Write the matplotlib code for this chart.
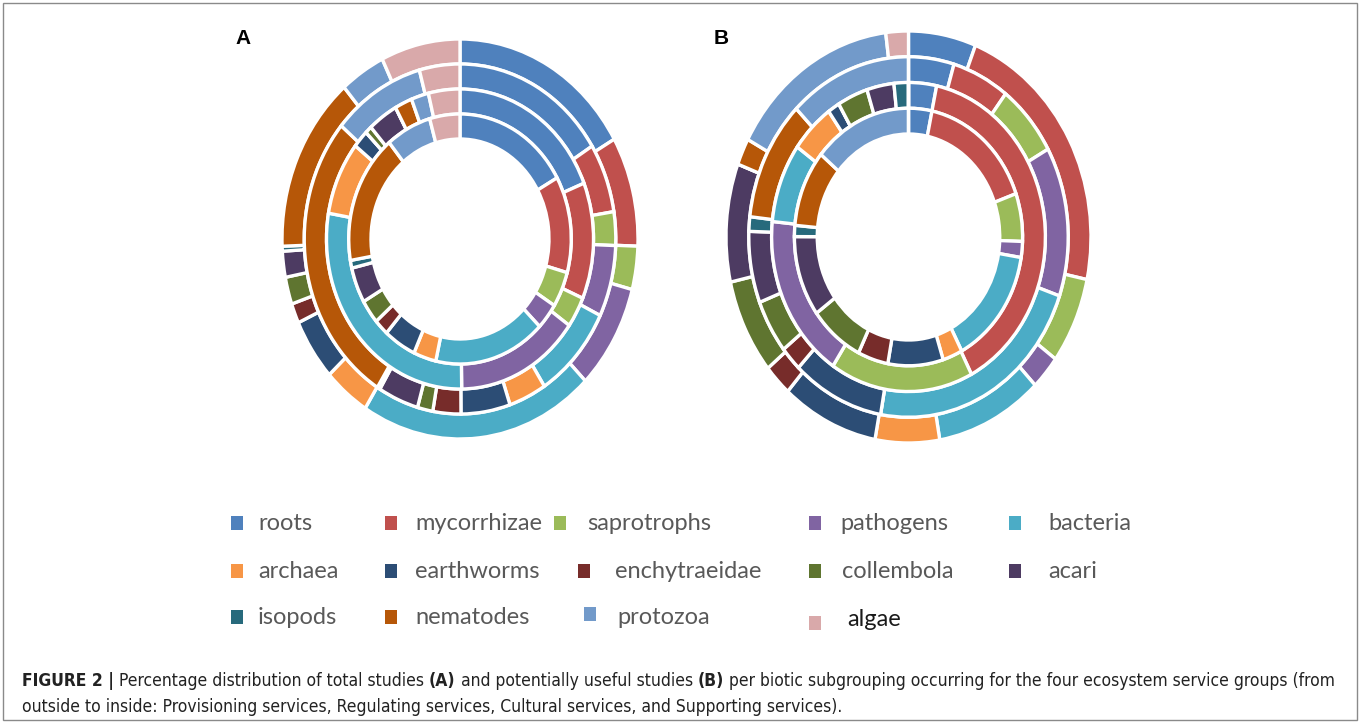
import matplotlib
matplotlib.use('Agg')
import matplotlib.pyplot as plt
from matplotlib.patches import Rectangle
from matplotlib import font_manager
from matplotlib.font_manager import FontProperties

W, H = 1360, 724

groups = ['roots', 'mycorrhizae', 'saprotrophs', 'pathogens', 'bacteria',
          'archaea', 'earthworms', 'enchytraeidae', 'collembola', 'acari',
          'isopods', 'nematodes', 'protozoa', 'algae']
colors = ['#4f81bd', '#c0504d', '#9bbb59', '#8064a2', '#4bacc6',
          '#f79646', '#2c4d75', '#772c2a', '#5f7530', '#4d3b62',
          '#276a7c', '#b65708', '#729aca', '#d9a9aa']

# % of studies per subgroup, (A) total studies, rings from outside to inside
a_provisioning = [16.7, 8.9, 3.5, 8.5, 21.4, 4.2, 5.0, 1.6, 2.2, 2.1, 0.4, 14.3, 4.1, 7.2]
a_regulating   = [16.1, 6.4, 3.1, 6.6, 8.7, 3.9, 5.1, 2.9, 1.6, 4.2, 0.3, 27.3, 9.6, 4.2]
a_cultural     = [18.9, 12.5, 3.3, 15.0, 27.9, 7.9, 1.9, 0.0, 0.8, 3.6, 0.0, 2.1, 2.1, 3.8]
a_supporting   = [16.9, 12.5, 4.6, 3.4, 16.2, 3.3, 4.7, 2.1, 3.1, 4.6, 1.0, 16.8, 6.6, 4.4]

# (B) potentially useful studies
b_provisioning = [6.0, 22.4, 6.8, 2.7, 9.5, 5.7, 8.6, 2.5, 7.5, 9.3, 0.0, 2.1, 15.2, 2.0]
b_regulating   = [4.6, 5.8, 6.5, 13.4, 22.5, 0.0, 9.3, 2.2, 4.8, 6.4, 1.3, 10.8, 12.4, 0.0]
b_cultural     = [3.3, 39.1, 16.9, 17.3, 8.3, 5.2, 1.4, 0.0, 3.6, 3.2, 1.7, 0.0, 0.0, 0.0]
b_supporting   = [3.3, 16.2, 6.0, 2.0, 14.7, 2.8, 7.8, 4.3, 7.7, 10.1, 1.4, 9.6, 13.9, 0.0]

caption_runs_1 = [('FIGURE 2 |', 'bold'),
                  ('Percentage distribution of total studies', 'normal'),
                  ('(A)', 'bold'),
                  ('and potentially useful studies', 'normal'),
                  ('(B)', 'bold'),
                  ('per biotic subgrouping occurring for the four ecosystem service groups (from', 'normal')]
caption_runs_2 = [('outside to inside: Provisioning services, Regulating services, Cultural services, '
                   'and Supporting services).', 'normal')]

# a narrow face for the caption if one is installed
files = [f.fname for f in font_manager.fontManager.ttflist]


def find_file(keys):
    for k in keys:
        for fn in files:
            if fn.endswith(k):
                return fn
    return None


cap_regular = find_file(['LiberationSansNarrow-Regular.ttf', 'DejaVuSansCondensed.ttf'])
cap_bold = find_file(['LiberationSansNarrow-Bold.ttf', 'DejaVuSansCondensed-Bold.ttf'])
names = {f.name for f in font_manager.fontManager.ttflist}
leg_font = 'Lato' if 'Lato' in names else 'DejaVu Sans'

fig = plt.figure(figsize=(W / 100, H / 100), dpi=100)


def rect_px(left, top, right, bottom):
    return [left / W, 1 - bottom / H, (right - left) / W, (bottom - top) / H]


def donut(box, rings):
    ax = fig.add_axes(rect_px(*box))
    radii = [1.0, 0.875, 0.75, 0.625]
    for r, vals in zip(radii, rings):
        ax.pie(vals, radius=r, colors=colors, startangle=90, counterclock=False,
               wedgeprops=dict(width=0.125, edgecolor='white', linewidth=2.4))
    ax.set_aspect('auto')
    ax.set_xlim(-1.0, 1.0)
    ax.set_ylim(-1.0, 1.0)
    ax.axis('off')
    return ax


donut((282, 39, 638, 439), [a_provisioning, a_regulating, a_cultural, a_supporting])
donut((726, 31, 1091, 443), [b_provisioning, b_regulating, b_cultural, b_supporting])

fig.text(243 / W, 1 - 38 / H, 'A', fontsize=15, fontweight='bold', family='Liberation Sans',
         ha='center', va='center')
fig.text(721 / W, 1 - 38 / H, 'B', fontsize=15, fontweight='bold', family='Liberation Sans',
         ha='center', va='center')

# legend, laid out like the original (3 rows x 5 columns)
leg_marker = [(237, 523), (391, 523), (560, 523), (815, 523), (1015, 523),
              (237, 571), (391, 571), (584, 571), (815, 571), (1015, 571),
              (237, 617), (391, 617), (590, 614), (815, 623)]
leg_text = [(258, 524), (415, 524), (587, 524), (840, 524), (1048, 524),
            (258, 572), (415, 572), (615, 572), (842, 572), (1048, 572),
            (258, 618), (415, 618), (617, 618), (847, 620)]
for i, g in enumerate(groups):
    mx, my = leg_marker[i]
    fig.add_artist(Rectangle(((mx - 6) / W, 1 - (my + 7) / H), 12 / W, 14 / H,
                             transform=fig.transFigure, facecolor=colors[i],
                             edgecolor='none'))
    tx, ty = leg_text[i]
    fig.text(tx / W, 1 - ty / H, g, fontsize=17, family=leg_font,
             color='#1a1a1a' if g == 'algae' else '#595959', ha='left', va='center')

# outer frame
fig.add_artist(Rectangle((3 / W, 1 - 720 / H), 1354 / W, 717 / H, transform=fig.transFigure,
                         fill=False, edgecolor='#8a8a8a', linewidth=1.0))

# caption with bold runs, sized so the first line spans the frame
renderer = fig.canvas.get_renderer()


def props(weight, size):
    fn = cap_bold if weight == 'bold' else cap_regular
    if fn:
        return FontProperties(fname=fn, size=size)
    return FontProperties(family='DejaVu Sans', weight=weight, size=size)


def text_width(s, weight, size):
    t = fig.text(0, 0, s, fontproperties=props(weight, size))
    w = t.get_window_extent(renderer).width
    t.remove()
    return w


def line_width(runs, size):
    sp = text_width('a a', 'normal', size) - text_width('aa', 'normal', size)
    return sum(text_width(s, w, size) for s, w in runs) + sp * (len(runs) - 1)


cap_size = 12.0
cap_size *= 1316 / line_width(caption_runs_1, cap_size)
space = text_width('a a', 'normal', cap_size) - text_width('aa', 'normal', cap_size)


def caption_line(runs, x, y):
    for s, weight in runs:
        t = fig.text(x / W, 1 - y / H, s, fontproperties=props(weight, cap_size),
                     color='#222222', ha='left', va='center')
        x += t.get_window_extent(renderer).width + space


caption_line(caption_runs_1, 22, 681)
caption_line(caption_runs_2, 22, 707)

fig.savefig('out.png', dpi=100)
